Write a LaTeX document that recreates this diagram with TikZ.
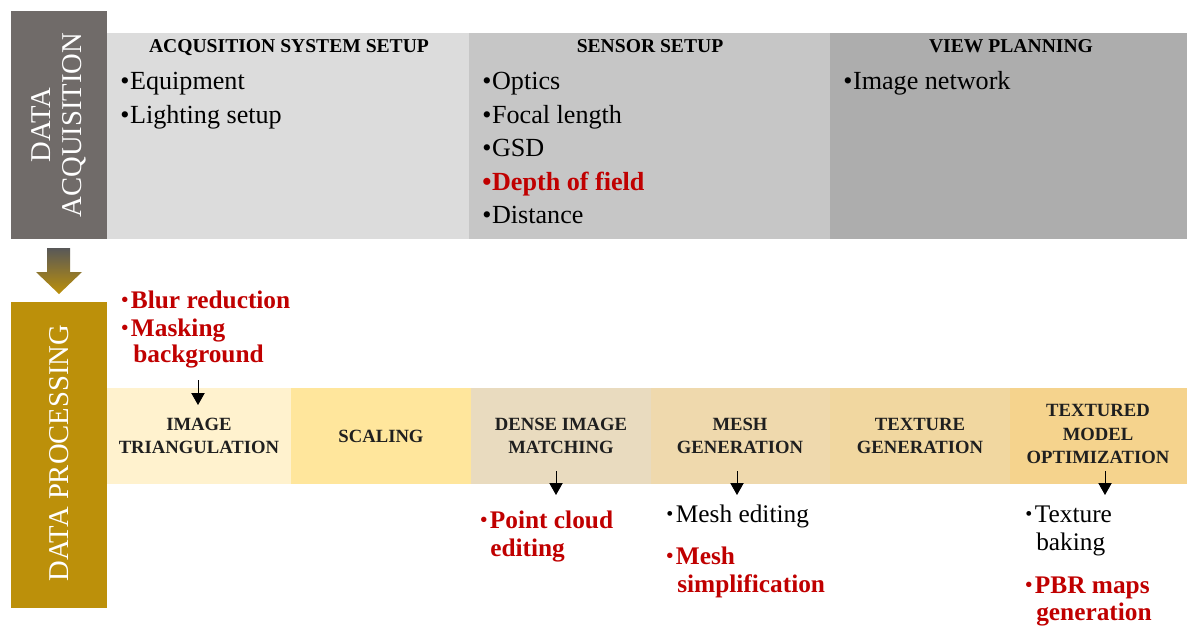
\documentclass[tikz,border=0pt]{standalone}
\usepackage{fontspec}
\setmainfont{Liberation Serif}
\usetikzlibrary{arrows.meta}
\definecolor{acqc}{RGB}{112,107,105}
\definecolor{procc}{RGB}{188,144,10}
\definecolor{arrtop}{RGB}{88,88,88}
\definecolor{gA}{RGB}{220,220,220}
\definecolor{gB}{RGB}{198,198,198}
\definecolor{gC}{RGB}{173,173,173}
\definecolor{pA}{RGB}{255,242,206}
\definecolor{pB}{RGB}{255,230,156}
\definecolor{pC}{RGB}{233,219,191}
\definecolor{pD}{RGB}{239,217,173}
\definecolor{pE}{RGB}{241,215,160}
\definecolor{pF}{RGB}{245,211,141}
\definecolor{redc}{RGB}{192,0,0}
\tikzset{
  vlabel/.style={rotate=90, align=center, text=white, inner sep=0,
    font=\fontsize{21.5}{23}\selectfont},
  hdr/.style={anchor=base, inner sep=0, font=\fontsize{14.7}{16}\selectfont\bfseries},
  topitem/.style={anchor=base west, inner sep=0, font=\fontsize{19.6}{21}\selectfont},
  reditem/.style={anchor=base west, inner sep=0, text=redc, font=\fontsize{19}{21}\selectfont\bfseries},
  blkitem/.style={anchor=base west, inner sep=0, font=\fontsize{19}{21}\selectfont},
  proclabel/.style={align=center, inner sep=0, text=black!88,
    font=\fontsize{14}{17.5}\selectfont\bfseries},
  sarrow/.style={-{Triangle[length=9pt,width=10pt]}, line width=0.7pt, black}
}
\newcommand{\bul}{\textbullet\kern0.5pt}
\newcommand{\sbul}{{\fontsize{15}{15}\selectfont\raisebox{0.8pt}{\textbullet}}\kern2pt}
\begin{document}
\begin{tikzpicture}[x=0.75pt,y=-0.75pt]
\useasboundingbox (0,0) rectangle (1187,628);
\fill[white] (0,0) rectangle (1187,628);
% ---------- data acquisition ----------
\fill[gA] (107,33) rectangle (469,239);
\fill[gB] (469,33) rectangle (830,239);
\fill[gC] (830,33) rectangle (1187,239);
\fill[acqc] (11,11) rectangle (107,239);
\node[vlabel] (acqlabel) at (59,125) {DATA\\ACQUISITION};

\node[hdr] (h1) at (289,52) {ACQUSITION SYSTEM SETUP};
\node[hdr] (h2) at (650,52) {SENSOR SETUP};
\node[hdr] (h3) at (1011,52) {VIEW PLANNING};

\node[topitem] (equip) at (120,89) {\bul Equipment};
\node[topitem] (light) at (120,123) {\bul Lighting setup};

\node[topitem] (optics) at (482,89) {\bul Optics};
\node[topitem] (focal) at (482,123) {\bul Focal length};
\node[topitem] (gsd) at (482,156) {\bul GSD};
\node[topitem,text=redc,font=\fontsize{19.6}{21}\selectfont\bfseries] (dof) at (482,190) {\bul Depth of field};
\node[topitem] (dist) at (482,223) {\bul Distance};

\node[topitem] (imgnet) at (843,89) {\bul Image network};

% ---------- big arrow ----------
\shade[top color=arrtop, bottom color=procc]
  (47,248) -- (70,248) -- (70,272) -- (82,272) -- (59,294) -- (36,272) -- (47,272) -- cycle;

% ---------- data processing ----------
\fill[procc] (11,302) rectangle (107,608);
\node[vlabel] (proclab) at (59,453) {DATA PROCESSING};

\fill[pA] (107,388) rectangle (291,484);
\fill[pB] (291,388) rectangle (471,484);
\fill[pC] (471,388) rectangle (651,484);
\fill[pD] (651,388) rectangle (830,484);
\fill[pE] (830,388) rectangle (1010,484);
\fill[pF] (1010,388) rectangle (1187,484);

\node[proclabel] (tri) at (199,436) {IMAGE\\TRIANGULATION};
\node[proclabel] (scal) at (381,436) {SCALING};
\node[proclabel] (dim) at (561,436) {DENSE IMAGE\\MATCHING};
\node[proclabel] (mesh) at (740,436) {MESH\\GENERATION};
\node[proclabel] (tex) at (920,436) {TEXTURE\\GENERATION};
\node[proclabel] (opt) at (1098,434) {TEXTURED\\MODEL\\OPTIMIZATION};

% pre-processing notes
\node[reditem] (blur) at (121,308) {\sbul Blur reduction};
\node[reditem] (mask) at (121,336) {\sbul Masking};
\node[reditem] (bg) at (133,362) {background};

% post notes
\node[reditem] (pc) at (480,528) {\sbul Point cloud};
\node[reditem] (pc2) at (490,556) {editing};

\node[blkitem] (medit) at (666,522) {\sbul Mesh editing};
\node[reditem] (msimp) at (666,564) {\sbul Mesh};
\node[reditem] (msimp2) at (677,592) {simplification};

\node[blkitem] (tbake) at (1025,522) {\sbul Texture};
\node[blkitem] (tbake2) at (1036,550) {baking};
\node[reditem] (pbr) at (1025,593) {\sbul PBR maps};
\node[reditem] (pbr2) at (1036,620) {generation};

% small arrows
\coordinate (a1s) at (198,380); \coordinate (a1e) at (198,405);
\coordinate (a2s) at (556,471); \coordinate (a2e) at (556,495);
\coordinate (a3s) at (737,471); \coordinate (a3e) at (737,495);
\coordinate (a4s) at (1105,471); \coordinate (a4e) at (1105,495);
\draw[sarrow] (a1s) -- (a1e);
\draw[sarrow] (a2s) -- (a2e);
\draw[sarrow] (a3s) -- (a3e);
\draw[sarrow] (a4s) -- (a4e);
\end{tikzpicture}
\end{document}
